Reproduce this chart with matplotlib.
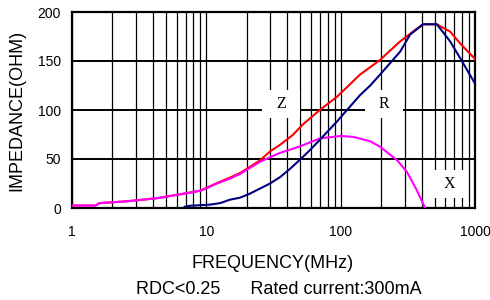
import numpy as np
import matplotlib
matplotlib.use('Agg')
import matplotlib.pyplot as plt
from matplotlib.patches import Rectangle
from matplotlib.ticker import FixedLocator, FixedFormatter, NullFormatter

# values (frequency in MHz, impedance in ohm)
freq_z = [1, 1.5, 1.6, 2.5, 4.3, 6.4, 9, 10, 12, 15, 18, 20, 25, 30, 35, 44, 53, 70, 94,
          139, 196, 277, 358, 410, 520, 653, 775, 1000]
z_ohm = [2.5, 2.5, 5, 6.7, 10, 14, 17.6, 20.5, 25.5, 31, 36, 40, 48.5, 58, 64, 74.5, 86, 100,
         113.6, 136, 151, 170, 181.6, 187.4, 187.4, 180, 168, 152]

freq_r = [6.9, 7.6, 10.6, 12.7, 15, 17.8, 21, 29.8, 35.4, 42, 50, 59, 70, 93.5, 139, 166,
          196, 277, 329, 390, 410, 520, 653, 775, 1000]
r_ohm = [1.3, 2.3, 3.4, 5, 8.5, 10.5, 14.5, 25, 31.5, 40, 49.5, 59, 69.6, 88, 115, 125,
         136, 159.5, 177, 185, 187.5, 187.5, 170, 153, 127]

freq_x = [1, 1.5, 1.6, 2.5, 4.3, 6.4, 9, 10, 12, 15, 18, 20, 25, 30, 35, 50, 70, 100,
          125, 166, 196, 262, 311, 368, 425]
x_ohm = [2.5, 2.5, 5, 6.7, 10, 14, 17.6, 20, 25, 30, 35, 39, 47, 52, 56, 63, 71, 73.5,
         72.5, 68, 62.6, 49, 37, 18.4, 0]

x_ticks = [1, 10, 100, 1000]
x_tick_labels = ['1', '10', '100', '1000']
y_ticks = [0, 50, 100, 150, 200]

plt.rcParams['font.family'] = ['Liberation Sans', 'DejaVu Sans']

fig = plt.figure(figsize=(4.9, 3.0), dpi=100)
ax = fig.add_axes([72 / 490, 1 - 208 / 300, 403 / 490, 196 / 300])

ax.set_xscale('log')
ax.set_xlim(1, 1000)
ax.set_ylim(0, 200)

ax.xaxis.set_major_locator(FixedLocator(x_ticks))
ax.xaxis.set_major_formatter(FixedFormatter(x_tick_labels))
minor = [m * d for d in (1, 10, 100) for m in range(2, 10)]
ax.xaxis.set_minor_locator(FixedLocator(minor))
ax.xaxis.set_minor_formatter(NullFormatter())
ax.set_yticks(y_ticks)

ax.tick_params(which='both', length=0)
ax.tick_params(axis='x', pad=12, labelsize=10)
ax.tick_params(axis='y', pad=8, labelsize=10)

ax.grid(True, axis='x', which='both', color='black', lw=0.9, zorder=1)
ax.grid(True, axis='y', which='major', color='black', lw=1.4, zorder=1)
ax.set_axisbelow(True)
for s in ax.spines.values():
    s.set_linewidth(1.6)

# white label boxes
for (x0, x1, y0, y1, lab) in [(0.471, 0.566, 0.459, 0.602, 'Z'),
                              (0.727, 0.821, 0.459, 0.602, 'R'),
                              (0.888, 0.983, 0.051, 0.194, 'X')]:
    ax.add_patch(Rectangle((x0, y0), x1 - x0, y1 - y0, transform=ax.transAxes,
                           facecolor='white', edgecolor='none', zorder=2))
    ax.text((x0 + x1) / 2, (y0 + y1) / 2, lab, transform=ax.transAxes,
            ha='center', va='center', fontsize=11.5, family='Liberation Serif', zorder=3)

# magenta sits on top of red where they overlap at low frequency
ax.plot(freq_z, z_ohm, color='#ff0000', lw=1.5, zorder=4)
ax.plot(freq_r, r_ohm, color='#000080', lw=1.5, zorder=5)
ax.plot(freq_x, x_ohm, color='#ff00ff', lw=1.5, zorder=4.5)

fig.text(273 / 490, 1 - 263 / 300, 'FREQUENCY(MHz)', ha='center', va='center', fontsize=13)
fig.text(279 / 490, 1 - 289 / 300, 'RDC<0.25      Rated current:300mA',
         ha='center', va='center', fontsize=13)
fig.text(17 / 490, 1 - 110 / 300, 'IMPEDANCE(OHM)', ha='center', va='center',
         rotation=90, fontsize=13)

fig.savefig('out.png', dpi=100)
